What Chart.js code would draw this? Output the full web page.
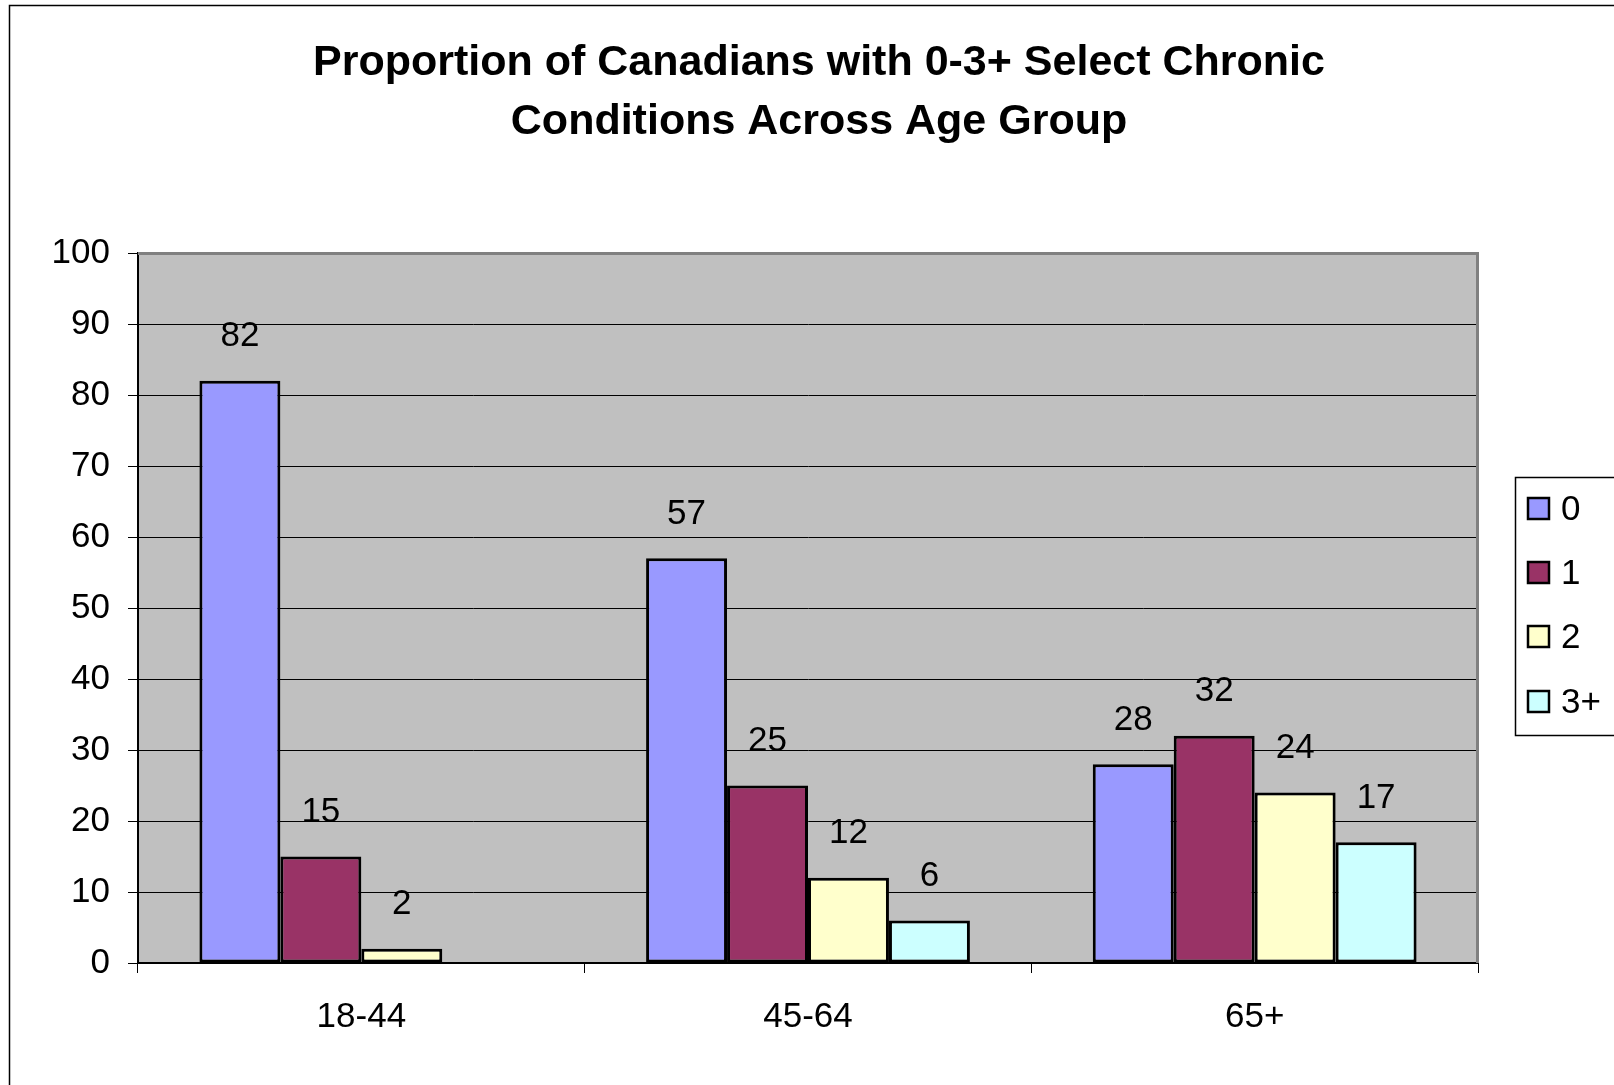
<!DOCTYPE html>
<html>
<head>
<meta charset="utf-8">
<script src="https://cdn.jsdelivr.net/npm/chart.js@4/dist/chart.umd.min.js"></script>
<style>
  html, body { margin:0; padding:0; background:#fff; }
  canvas { display:block; }
</style>
</head>
<body>
<canvas id="c" width="1614" height="1085"></canvas>
<script>
// data
const AGE_GROUPS = ['18-44', '45-64', '65+'];
const SERIES_NAMES = ['0', '1', '2', '3+'];
const COND_0 = [82, 57, 28];
const COND_1 = [15, 25, 32];
const COND_2 = [2, 12, 24];
const COND_3P = [null, 6, 17];
const Y_TICKS = [0, 10, 20, 30, 40, 50, 60, 70, 80, 90, 100];
const TITLE_LINES = ['Proportion of Canadians with 0-3+ Select Chronic', 'Conditions Across Age Group'];

const COLORS = ['#9999FF', '#993366', '#FFFFCC', '#CCFFFF'];
const FONT = '"Liberation Sans", Arial, sans-serif';
const TXT = 35;

// fond gris + cadre + titre + étiquettes + légende
const decor = {
  id: 'decor',
  beforeDraw(chart){
    const {ctx, chartArea:a} = chart;
    ctx.save();
    ctx.fillStyle = '#fff';
    ctx.fillRect(0, 0, chart.width, chart.height);
    ctx.fillStyle = '#C0C0C0';
    ctx.fillRect(a.left, a.top, a.right - a.left, a.bottom - a.top);
    ctx.restore();
  },
  beforeDatasetsDraw(chart){
    const {ctx, chartArea:a} = chart;
    ctx.save();
    ctx.strokeStyle = '#808080';
    ctx.lineWidth = 3;
    ctx.beginPath();
    ctx.moveTo(a.left, a.top + 0.5);
    ctx.lineTo(a.right - 0.5, a.top + 0.5);
    ctx.lineTo(a.right - 0.5, a.bottom);
    ctx.stroke();
    ctx.restore();
  },
  afterDatasetsDraw(chart){
    const ctx = chart.ctx;
    ctx.save();
    ctx.fillStyle = '#000';
    ctx.font = TXT + 'px ' + FONT;
    ctx.textAlign = 'center';
    ctx.textBaseline = 'middle';
    chart.data.datasets.forEach((ds, i) => {
      chart.getDatasetMeta(i).data.forEach((bar, j) => {
        const v = ds.data[j];
        if (v == null) return;
        ctx.fillText(String(v), bar.x, bar.y - 44);
      });
    });
    ctx.restore();
  },
  afterDraw(chart){
    const ctx = chart.ctx;
    ctx.save();
    // cadre extérieur (coupé à droite et en bas)
    ctx.strokeStyle = '#000';
    ctx.lineWidth = 1.5;
    ctx.strokeRect(9.5, 5.5, 1640, 1120);

    ctx.fillStyle = '#000';
    ctx.font = 'bold 43px ' + FONT;
    ctx.textAlign = 'center';
    ctx.textBaseline = 'alphabetic';
    ctx.fillText(TITLE_LINES[0], 819, 75);
    ctx.fillText(TITLE_LINES[1], 819, 134);

    // légende
    ctx.fillStyle = '#fff';
    ctx.fillRect(1515, 477, 140, 258);
    ctx.lineWidth = 1.5;
    ctx.strokeRect(1515.5, 477.5, 140, 258);
    const ys = [509, 573, 637, 702];
    ctx.font = TXT + 'px ' + FONT;
    ctx.textAlign = 'left';
    ctx.textBaseline = 'middle';
    SERIES_NAMES.forEach((name, i) => {
      ctx.fillStyle = COLORS[i];
      ctx.fillRect(1528, ys[i] - 11, 21, 21);
      ctx.lineWidth = 2.5;
      ctx.strokeStyle = '#000';
      ctx.strokeRect(1528, ys[i] - 11, 21, 21);
      ctx.fillStyle = '#000';
      ctx.fillText(name, 1561, ys[i] + 1);
    });
    ctx.restore();
  }
};

const seriesData = [COND_0, COND_1, COND_2, COND_3P];

new Chart(document.getElementById('c').getContext('2d'), {
  type: 'bar',
  data: {
    labels: AGE_GROUPS,
    datasets: SERIES_NAMES.map((name, i) => ({
      label: name,
      data: seriesData[i],
      backgroundColor: COLORS[i],
      borderColor: '#000',
      borderWidth: 3,
      borderSkipped: false,
      barPercentage: 1,
      categoryPercentage: 0.725
    }))
  },
  options: {
    responsive: false,
    animation: false,
    devicePixelRatio: 1,
    layout: { padding: { left: 10, top: 253, right: 136, bottom: 22 } },
    plugins: { legend: { display: false }, title: { display: false }, tooltip: { enabled: false } },
    scales: {
      x: {
        afterFit(s){ s.height = 100; },
        grid: { offset: true, drawOnChartArea: false, drawTicks: true, tickLength: 10, color: '#000', lineWidth: 1 },
        border: { display: true, color: '#000', width: 2 },
        ticks: { color: '#000', font: { family: FONT, size: TXT }, padding: 23, maxRotation: 0 }
      },
      y: {
        min: 0, max: 100,
        afterFit(s){ s.width = 128; },
        afterBuildTicks(s){ s.ticks = Y_TICKS.map(v => ({ value: v })); },
        grid: { color: '#000', lineWidth: 1, tickLength: 10 },
        border: { display: true, color: '#000', width: 2 },
        ticks: { color: '#000', font: { family: FONT, size: TXT }, padding: 18 }
      }
    }
  },
  plugins: [decor]
});
</script>
</body>
</html>
